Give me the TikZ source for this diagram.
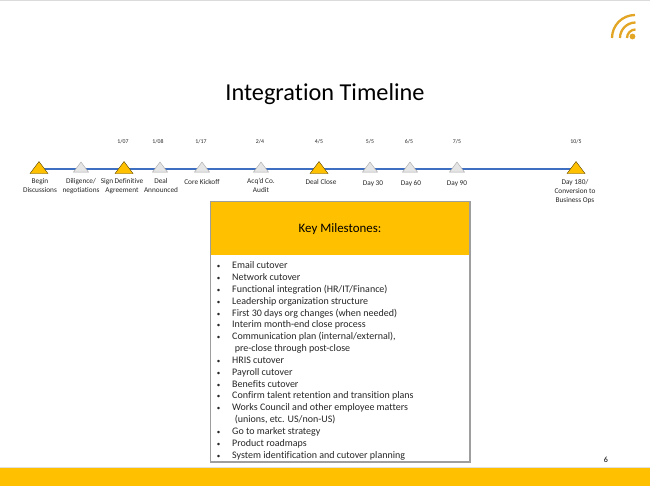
\documentclass[tikz,border=0pt]{standalone}
\usepackage{fontspec}
\setmainfont[Ligatures=NoCommon]{Carlito}
\usetikzlibrary{shapes.geometric,shadows,backgrounds}
\definecolor{goldbar}{HTML}{FFC000}
\definecolor{iconcol}{HTML}{E3A624}
\definecolor{linecol}{HTML}{3F6FC0}
\definecolor{txtcol}{HTML}{262626}
\tikzset{
  goldmark/.style={isosceles triangle,isosceles triangle apex angle=72,isosceles triangle stretches,shape border rotate=90,minimum width=18,minimum height=12,inner sep=0,fill=goldbar,draw=black!65!goldbar,line width=.4pt},
  graymark/.style={isosceles triangle,isosceles triangle apex angle=72,isosceles triangle stretches,shape border rotate=90,minimum width=15,minimum height=10,inner sep=0,fill=black!10,draw=black!35,line width=.4pt},
  datelab/.style={font=\fontsize{5.8}{7}\selectfont,text=txtcol,inner sep=0},
  marklab/.style={font=\fontsize{7.3}{9}\selectfont,text=txtcol,align=center,inner sep=0},
  listlab/.style={font=\fontsize{10}{12}\selectfont,text=txtcol,anchor=base west,inner sep=0},
  tl/.style={line width=1.9pt,linecol,preaction={draw=black!35,line width=2.8pt}},
  box/.style={general shadow={fill=black!38,shadow xshift=.4pt,shadow yshift=-.4pt,shadow scale=1.01},rectangle,inner sep=0,anchor=north west}
}
\begin{document}
\begin{tikzpicture}[x=1pt,y=-1pt]
    \useasboundingbox (0,0) rectangle (650,487);
    \fill[black!14] (0,0) rectangle (650,.8);
    \fill[goldbar] (0,468) rectangle (650,485.5);
    \fill[black!12] (0,467) rectangle (650,468);

    \node (title) at (325,94.5) {\fontsize{24.3}{28}\selectfont Integration Timeline};
    \node (page) at (606,460) {\fontsize{8}{10}\selectfont 6};

    \draw[iconcol,line width=2.3pt] (612,38) arc[start angle=180,end angle=270,radius=23] (620,38) arc[start angle=180,end angle=270,radius=15.5] (627,38) arc[start angle=180,end angle=270,radius=8.5];
    \fill[iconcol] (632.5,36.5) circle[radius=2.9];

    \node[goldmark] (1) at (39,169) {};
    \node[graymark] (2) at (81,168.3) {};
    \node[goldmark] (3) at (124,169) {};
    \node[graymark] (4) at (160,168.3) {};
    \node[graymark] (5) at (202,168.3) {};
    \node[graymark] (6) at (261,168.3) {};
    \node[goldmark] (7) at (319,169) {};
    \node[graymark] (8) at (370,168.3) {};
    \node[graymark] (9) at (410,168.3) {};
    \node[graymark] (10) at (457,168.3) {};
    \node[goldmark] (11) at (576,169) {};

    \begin{scope}[on background layer]
      \draw[tl] (1.center) -- (11.center);
    \end{scope}

    \node[datelab] (d3) at (123,142) {1/07};
    \node[datelab] (d4) at (158,142) {1/08};
    \node[datelab] (d5) at (201,142) {1/17};
    \node[datelab] (d6) at (260,142) {2/4};
    \node[datelab] (d7) at (319,142) {4/5};
    \node[datelab] (d8) at (370,142) {5/5};
    \node[datelab] (d9) at (409,142) {6/5};
    \node[datelab] (d10) at (457,142) {7/5};
    \node[datelab] (d11) at (576,142) {10/5};

    \node[marklab] (l1) at (40,185.5) {Begin\\Discussions};
    \node[marklab] (l2) at (81,186.5) {Diligence/\\negotiations};
    \node[marklab] (l3) at (122,186.5) {Sign Definitive\\Agreement};
    \node[marklab] (l4) at (161,185) {Deal\\Announced};
    \node[marklab] (l5) at (202,181.5) {Core Kickoff};
    \node[marklab] (l6) at (261,185) {Acq’d Co.\\Audit};
    \node[marklab] (l7) at (321,182) {Deal Close};
    \node[marklab] (l8) at (373,183.5) {Day 30};
    \node[marklab] (l9) at (411,183.5) {Day 60};
    \node[marklab] (l10) at (457,183.5) {Day 90};
    \node[marklab] (l11) at (575,191.5) {Day 180/\\Conversion to\\Business Ops};

    \node[box,fill=white,minimum width=258,minimum height=259] (body) at (211,202) {};
    \fill[goldbar] (body.north west) rectangle (469,255);
    \node (head) at (340,229.5) {\fontsize{12.9}{16}\selectfont Key Milestones:};

    \foreach \yy/\tt in {
      268.8/{Email cutover},
      280.6/{Network cutover},
      292.4/{Functional integration (HR/IT/Finance)},
      304.3/{Leadership organization structure},
      316.1/{First 30 days org changes (when needed)},
      327.9/{Interim month-end close process},
      339.8/{Communication plan (internal/external),},
      363.4/{HRIS cutover},
      375.3/{Payroll cutover},
      387.1/{Benefits cutover},
      398.9/{Confirm talent retention and transition plans},
      410.8/{Works Council and other employee matters},
      434.4/{Go to market strategy},
      446.3/{Product roadmaps},
      458.1/{System identification and cutover planning}}
      {
      \node[listlab] at (232,\yy) {\tt};
      \node[listlab,font=\fontsize{7}{8}\selectfont] at (216.6,\yy) {•};
      }
    \node[listlab] (cont1) at (234.6,351.6) {pre-close through post-close};
    \node[listlab] (cont2) at (234.6,422.6) {(unions, etc. US/non-US)};
\end{tikzpicture}
\end{document}
